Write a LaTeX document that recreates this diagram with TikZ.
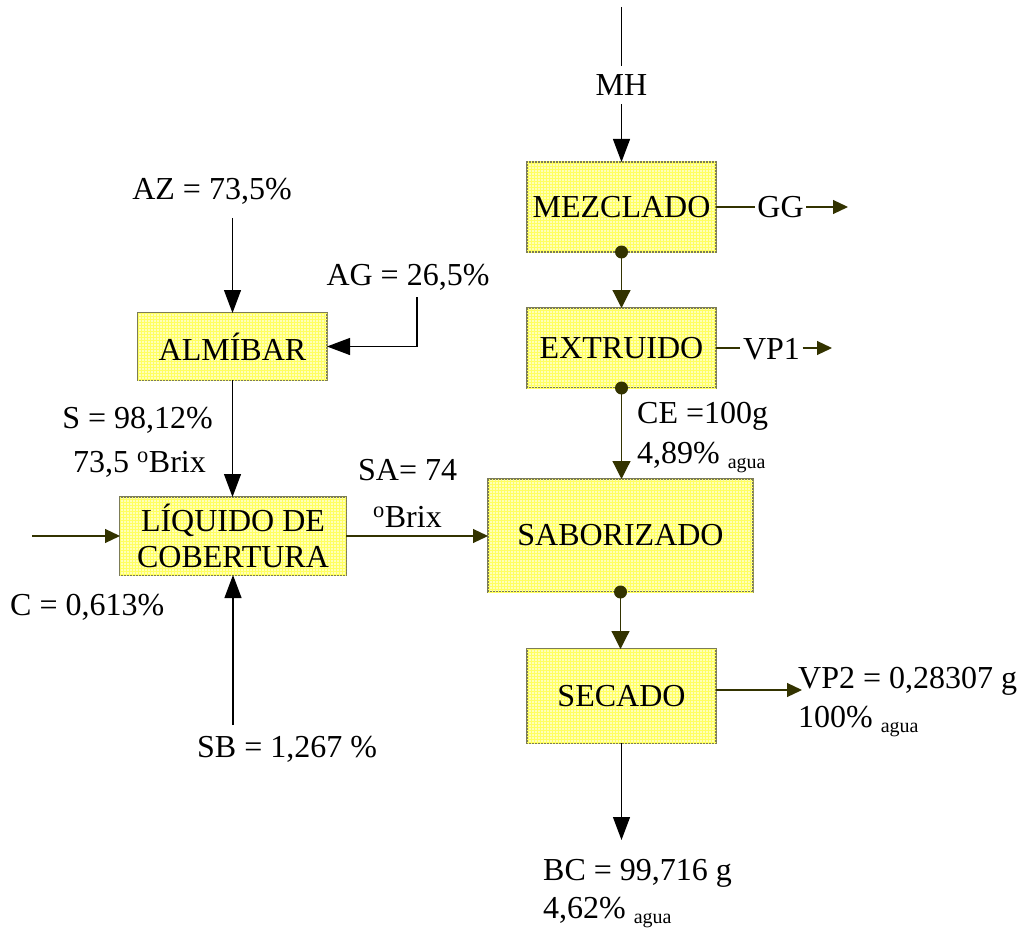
\documentclass[tikz,border=0pt]{standalone}
\usepackage{fontspec}
\setmainfont{Liberation Serif}
\usetikzlibrary{arrows.meta,patterns}
\definecolor{boxfill}{HTML}{FFFFB8}
\definecolor{gridc}{HTML}{FFFF60}
\definecolor{boxdraw}{HTML}{7C7C58}
\definecolor{olivec}{HTML}{333300}
\newcommand{\bigfs}{\fontsize{32}{36}\selectfont}
\newcommand{\aguasub}{{\fontsize{20}{24}\selectfont\raisebox{-5pt}{agua}}}
\tikzset{
  procbox/.style={draw=boxdraw, line width=1.3pt, fill=boxfill,
    postaction={pattern=grid, pattern color=gridc},
    inner sep=0pt, outer sep=0pt, font=\bigfs, align=center},
  lbl/.style={inner sep=0pt, font=\bigfs},
  flowlbl/.style={inner sep=2.5pt, font=\bigfs, text height=22pt, text depth=0pt},
  blackarr/.style={draw=black, line width=1.2pt, -{Triangle[length=23pt,width=17pt]}},
  olivearr/.style={draw=olivec, line width=1.2pt, -{Triangle[length=18pt,width=18pt]}},
  olivearrh/.style={draw=olivec, line width=1.2pt, -{Triangle[length=15pt,width=14pt]}},
  oliveline/.style={draw=olivec, line width=1.2pt},
  blackline/.style={draw=black, line width=1.2pt},
}
\begin{document}
\begin{tikzpicture}[x=1pt,y=-1pt]
\useasboundingbox (0,0) rectangle (1021,931);
% process boxes
\node[procbox, minimum width=189pt, minimum height=90pt] (mez) at (621.5,207) {MEZCLADO};
\node[procbox, minimum width=189pt, minimum height=80pt] (ext) at (621.5,348) {EXTRUIDO};
\node[procbox, minimum width=265pt, minimum height=113pt] (sab) at (620.5,535.5) {SABORIZADO};
\node[procbox, minimum width=189pt, minimum height=94pt] (sec) at (621.5,696) {SECADO};
\node[procbox, minimum width=189pt, minimum height=67pt] (alm) at (232.5,346.5) {ALMÍBAR};
\node[procbox, minimum width=226pt, minimum height=78pt] (liq) at (233,536) {LÍQUIDO DE\\COBERTURA};

% MH input
\coordinate (mhTop) at (621.5,7);
\node[flowlbl, inner sep=8pt] (mh) at (621.5,85) {MH};
\draw[blackline] (mhTop) -- (mh.north);
\draw[blackarr] (mh.south) -- (mez.north);

% GG output
\node[flowlbl] (gg) at (780.5,207) {GG};
\coordinate (ggEnd) at (848,207);
\draw[oliveline] (mez.east) -- (gg.west);
\draw[olivearrh] (gg.east) -- (ggEnd);

% VP1 output
\node[flowlbl] (vp1) at (771.5,348) {VP1};
\coordinate (vp1End) at (832,348);
\draw[oliveline] (ext.east) -- (vp1.west);
\draw[olivearrh] (vp1.east) -- (vp1End);

% main flow
\draw[olivearr] (mez.south) -- (ext.north);
\fill[olivec] (mez.south) circle (6.5pt);
\draw[olivearr] (ext.south) -- (ext.south |- sab.north);
\fill[olivec] (ext.south) circle (6.5pt);
\draw[olivearr] (sab.south) -- (sab.south |- sec.north);
\fill[olivec] (sab.south) circle (6.5pt);
\coordinate (bcTip) at (621.5,840);
\draw[blackarr] (sec.south) -- (bcTip);
\coordinate (vp2Tip) at (802,690);
\draw[olivearrh] ([yshift=6pt]sec.east) -- (vp2Tip);

% left part
\coordinate (azTop) at (232.5,218);
\draw[blackarr] (azTop) -- (alm.north);
\coordinate (agTop) at (417,297);
\draw[blackarr] (agTop) |- (alm.east);
\draw[blackarr] (alm.south) -- (alm.south |- liq.north);
\coordinate (sbStart) at (233,725);
\draw[blackarr] (sbStart) -- (liq.south);
\coordinate (cIn) at (32,536);
\draw[olivearrh] (cIn) -- (liq.west);
\draw[olivearrh] (liq.east) -- (liq.east -| sab.west);

% labels
\node[lbl, anchor=base] (azl) at (212,200) {AZ = 73,5\%};
\node[lbl, anchor=base] (agl) at (408,285) {AG = 26,5\%};
\node[lbl, anchor=base east] (sl1) at (213,428) {S = 98,12\%};
\node[lbl, anchor=base east] (sl2) at (206,472) {73,5 \textsuperscript{o}Brix};
\node[lbl, anchor=base west] (sal1) at (358,480) {SA= 74};
\node[lbl, anchor=base west] (sal2) at (373,527) {\textsuperscript{o}Brix};
\node[lbl, anchor=base west] (cel1) at (637,423) {CE =100g};
\node[lbl, anchor=base west] (cel2) at (637,463) {4,89\% \aguasub};
\node[lbl, anchor=base west] (cl) at (10,615) {C = 0,613\%};
\node[lbl, anchor=base west] (sbl) at (197,757) {SB = 1,267 \%};
\node[lbl, anchor=base west] (vp2l1) at (798,688) {VP2 = 0,28307 g};
\node[lbl, anchor=base west] (vp2l2) at (798,727) {100\% \aguasub};
\node[lbl, anchor=base west] (bcl1) at (543,880) {BC = 99,716 g};
\node[lbl, anchor=base west] (bcl2) at (543,918) {4,62\% \aguasub};
\end{tikzpicture}
\end{document}
